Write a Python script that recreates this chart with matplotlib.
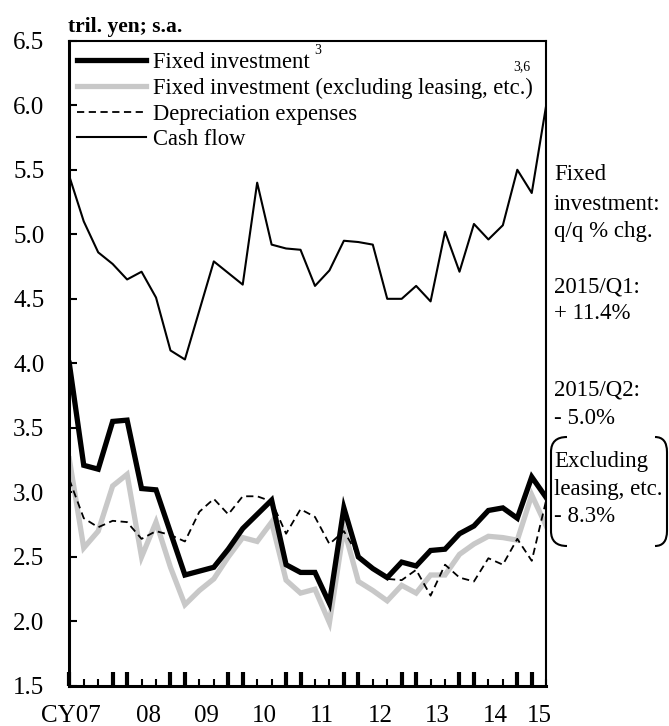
import matplotlib.pyplot as plt
from matplotlib import transforms
from matplotlib.path import Path
from matplotlib.patches import PathPatch

plt.rcParams['font.family'] = ['Liberation Serif', 'DejaVu Serif']

# quarterly data, 2007/Q1 .. 2015/Q2 (tril. yen; s.a.)
quarters = ['07Q1', '07Q2', '07Q3', '07Q4', '08Q1', '08Q2', '08Q3', '08Q4',
            '09Q1', '09Q2', '09Q3', '09Q4', '10Q1', '10Q2', '10Q3', '10Q4',
            '11Q1', '11Q2', '11Q3', '11Q4', '12Q1', '12Q2', '12Q3', '12Q4',
            '13Q1', '13Q2', '13Q3', '13Q4', '14Q1', '14Q2', '14Q3', '14Q4',
            '15Q1', '15Q2']
fixed_inv = [4.00, 3.21, 3.18, 3.55, 3.56, 3.03, 3.02, 2.69, 2.36, 2.39,
             2.42, 2.56, 2.72, 2.83, 2.94, 2.44, 2.38, 2.38, 2.14, 2.88,
             2.50, 2.41, 2.34, 2.46, 2.43, 2.55, 2.56, 2.68, 2.74, 2.86,
             2.88, 2.80, 3.12, 2.96]
fixed_inv_ex = [3.26, 2.57, 2.70, 3.05, 3.14, 2.50, 2.77, 2.42, 2.13, 2.24,
                2.33, 2.50, 2.65, 2.62, 2.77, 2.32, 2.22, 2.25, 1.99, 2.72,
                2.31, 2.24, 2.16, 2.28, 2.22, 2.36, 2.36, 2.52, 2.60, 2.66,
                2.65, 2.63, 2.98, 2.74]
depreciation = [3.10, 2.80, 2.73, 2.78, 2.77, 2.64, 2.70, 2.67, 2.62, 2.85,
                2.95, 2.83, 2.97, 2.97, 2.93, 2.68, 2.87, 2.81, 2.60, 2.70,
                2.51, 2.42, 2.33, 2.32, 2.40, 2.20, 2.44, 2.34, 2.31, 2.49,
                2.44, 2.64, 2.47, 2.94]
cash_flow = [5.45, 5.10, 4.86, 4.77, 4.65, 4.71, 4.51, 4.10, 4.03, 4.41,
             4.79, 4.70, 4.61, 5.40, 4.92, 4.89, 4.88, 4.60, 4.72, 4.95,
             4.94, 4.92, 4.50, 4.50, 4.60, 4.48, 5.02, 4.71, 5.08, 4.96,
             5.07, 5.50, 5.32, 6.00]
year_labels = ['CY07', '08', '09', '10', '11', '12', '13', '14', '15']
year_pos = [0.1, 5.5, 9.5, 13.5, 17.5, 21.5, 25.5, 29.5, 32.5]

W, H = 669, 726
fig = plt.figure(figsize=(W / 100, H / 100), dpi=100)
ax = fig.add_axes([69.3 / W, 1 - 686 / H, (546.2 - 69.3) / W, (686 - 40.7) / H])

x = list(range(len(quarters)))
l2, = ax.plot(x, fixed_inv_ex, color='#c8c8c8', lw=3.8, solid_joinstyle='miter',
              label='Fixed investment (excluding leasing, etc.)')
l3, = ax.plot(x, depreciation, color='black', lw=1.3, ls=(0, (4, 2.5)),
              label='Depreciation expenses')
l4, = ax.plot(x, cash_flow, color='black', lw=1.5, label='Cash flow')
l1, = ax.plot(x, fixed_inv, color='black', lw=3.8, solid_joinstyle='miter',
              label='Fixed investment')

ax.set_xlim(0, 33)
ax.set_ylim(1.5, 6.5)
yt = [1.5, 2.0, 2.5, 3.0, 3.5, 4.0, 4.5, 5.0, 5.5, 6.0, 6.5]
ax.set_yticks(yt)
ax.set_yticklabels(['%.1f' % v for v in yt])
ax.tick_params(axis='y', direction='in', length=6, width=1.5, labelsize=18, pad=18)

ax.set_xticks([i for i in x if i % 4 in (0, 3)])
ax.set_xticks([i for i in x if i % 4 in (1, 2)], minor=True)
ax.tick_params(axis='x', which='major', direction='in', length=10, width=3,
               labelbottom=False)
ax.tick_params(axis='x', which='minor', direction='in', length=5, width=1.5,
               labelbottom=False)

for s in ['left', 'bottom']:
    ax.spines[s].set_linewidth(2.2)
for s in ['top', 'right']:
    ax.spines[s].set_linewidth(1.5)

tr = transforms.blended_transform_factory(ax.transData, fig.transFigure)
for lab, p in zip(year_labels, year_pos):
    ax.text(p, 1 - 716 / H, lab, transform=tr, ha='center', va='center',
            fontsize=18, clip_on=False)

leg = ax.legend(handles=[l1, l2, l3, l4], loc='upper left',
                bbox_to_anchor=(0.016, 0.982), frameon=False, fontsize=16.3,
                handlelength=3.05, handletextpad=0.3, labelspacing=0.2,
                borderpad=0, borderaxespad=0)


def fx(px):
    return px / W


def fy(py):
    return 1 - py / H


fig.text(fx(314), fy(50), '3', fontsize=10, ha='left', va='center')
fig.text(fx(513), fy(67), '3,6', fontsize=10, ha='left', va='center')
fig.text(fx(68), fy(27), 'tril. yen; s.a.', fontsize=15.5, fontweight='bold',
         ha='left', va='center')

notes = [('Fixed', 175), ('investment:', 205), ('q/q % chg.', 232),
         ('2015/Q1:', 287), ('+ 11.4%', 313), ('2015/Q2:', 390),
         ('- 5.0%', 418), ('Excluding', 462), ('leasing, etc.', 489),
         ('- 8.3%', 517)]
for t, py in notes:
    fig.text(fx(554), fy(py), t, fontsize=16.5, ha='left', va='center')

# brackets around the "excluding leasing" note
verts_l = [(567, 437), (551, 437), (551, 452), (551, 531), (551, 546), (567, 546)]
verts_r = [(655, 437), (667, 437), (667, 452), (667, 531), (667, 546), (655, 546)]
codes = [Path.MOVETO, Path.CURVE3, Path.CURVE3, Path.LINETO, Path.CURVE3, Path.CURVE3]
for v in [verts_l, verts_r]:
    pth = Path([(fx(a), fy(b)) for a, b in v], codes)
    fig.add_artist(PathPatch(pth, fill=False, lw=1.5, color='black',
                             transform=fig.transFigure))

fig.savefig('out.png', dpi=100, facecolor='white')
